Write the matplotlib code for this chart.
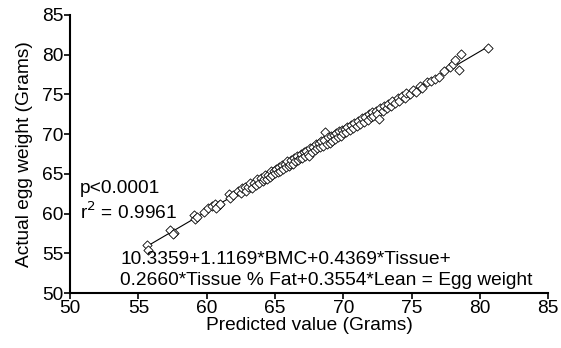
import numpy as np
import matplotlib
matplotlib.use("Agg")
import matplotlib.pyplot as plt

plt.rcParams['font.family'] = ['Liberation Sans', 'DejaVu Sans']

# Predicted value (g) and actual egg weight (g) for each egg
predicted = [
    55.6, 55.7, 57.3, 57.6, 57.5,
    59.1, 59.15, 59.3, 59.8, 60.1, 60.4, 60.6, 60.9, 60.7, 61.0, 61.6, 61.7, 61.9,
    62.3, 62.5, 62.6, 62.8, 62.9, 63.0, 63.2, 63.3, 63.5, 63.6, 63.7, 63.8, 64.0,
    64.1, 64.2, 64.3, 64.4, 64.5, 64.6, 64.7, 64.8, 64.9, 65.0, 65.1, 65.2, 65.3, 65.4,
    65.5, 65.6, 65.7, 65.8, 65.9, 66.0, 66.1, 66.2, 66.3, 66.4, 66.5, 66.6, 66.7,
    66.8, 66.9, 67.0, 67.1, 67.2, 67.3, 67.4, 67.5, 67.6, 67.7, 67.8, 67.9, 68.0,
    68.1, 68.2, 68.3, 68.4, 68.5, 68.6, 68.7, 68.8, 68.9, 69.0, 69.1, 69.2, 69.3,
    69.4, 69.5, 69.6, 69.7, 69.8, 69.9,
    70.0, 70.1, 70.2, 70.3, 70.5, 70.6, 70.7, 70.8, 71.0, 71.1, 71.2, 71.4, 71.5,
    71.6, 71.8, 71.9, 72.0, 72.1, 72.2, 72.4, 72.5, 72.6, 72.7, 72.9, 73.0, 73.2,
    73.3, 73.5, 73.6, 73.8, 74.0, 74.1, 74.3, 74.5, 74.6,
    74.9, 75.1, 75.3, 75.6, 75.8, 76.1, 76.4, 76.7, 77.0, 77.4, 77.8, 78.0, 78.2,
    78.5, 78.6, 80.6,
]
actual = [
    56.0, 55.4, 57.9, 57.6, 57.4,
    59.8, 59.3, 59.6, 60.2, 60.7, 60.9, 61.2, 61.1, 60.7, 61.2, 62.5, 62.0, 62.3,
    62.8, 62.6, 63.2, 63.4, 62.9, 63.3, 63.8, 63.2, 63.9, 63.6, 64.3, 63.8, 64.5,
    64.1, 64.3, 64.9, 64.4, 64.9, 64.6, 65.3, 64.8, 65.4, 65.1, 65.6, 65.2, 65.9, 65.4,
    66.1, 65.6, 66.3, 65.9, 66.6, 66.0, 66.3, 66.8, 66.3, 67.0, 66.6, 67.3, 66.8,
    67.0, 67.5, 67.0, 67.7, 67.2, 67.9, 67.5, 67.3, 68.2, 67.7, 68.4, 68.0, 68.7,
    68.2, 68.9, 68.4, 69.1, 68.5, 69.3, 70.3, 68.8, 69.6, 68.9, 69.8, 69.1, 69.9,
    69.4, 70.1, 69.7, 70.4, 69.8, 70.5,
    70.1, 70.7, 70.3, 70.9, 70.5, 71.2, 70.8, 71.4, 71.0, 71.7, 71.3, 72.0, 71.5,
    72.2, 71.8, 72.5, 72.1, 72.8, 72.3, 72.9, 72.5, 71.9, 73.3, 72.9, 73.5, 73.3,
    73.8, 73.6, 74.2, 73.9, 74.6, 74.2, 74.8, 74.6, 75.2,
    75.1, 75.6, 75.3, 76.1, 75.8, 76.6, 76.7, 77.0, 77.2, 77.9, 78.5, 78.8, 79.3,
    78.1, 80.1, 80.9,
]

x_ticks = [50, 55, 60, 65, 70, 75, 80, 85]
y_ticks = [50, 55, 60, 65, 70, 75, 80, 85]

FS = 13.8

fig = plt.figure(figsize=(5.61, 3.48), dpi=100)
ax = fig.add_axes([0.125, 0.158, 0.852, 0.799])

x = np.array(predicted)
y = np.array(actual)

# Least-squares fit line over the range of the predictions
slope, intercept = np.polyfit(x, y, 1)
xl = np.array([x.min(), x.max()])
ax.plot(xl, slope * xl + intercept, color='black', lw=0.8, zorder=2)

ax.scatter(x, y, marker='D', s=22, facecolor='white', edgecolor='black',
           linewidths=0.6, zorder=3)

ax.set_xlim(50, 85)
ax.set_ylim(50, 85)
ax.set_xticks(x_ticks)
ax.set_yticks(y_ticks)

for side in ('top', 'right'):
    ax.spines[side].set_visible(False)
for side in ('left', 'bottom'):
    ax.spines[side].set_linewidth(1.5)

ax.tick_params(axis='both', direction='out', length=4, width=1.2,
               labelsize=FS, pad=1)

ax.set_xlabel('Predicted value (Grams)', fontsize=FS, labelpad=0)
ax.set_ylabel('Actual egg weight (Grams)', fontsize=FS, labelpad=6)

ax.text(0.021, 0.375, 'p<0.0001', transform=ax.transAxes, fontsize=FS,
        va='center', ha='left')
ax.text(0.021, 0.292, r'r$^2$ = 0.9961', transform=ax.transAxes, fontsize=FS,
        va='center', ha='left')
ax.text(0.105, 0.12, '10.3359+1.1169*BMC+0.4369*Tissue+',
        transform=ax.transAxes, fontsize=FS, va='center', ha='left')
ax.text(0.105, 0.045, '0.2660*Tissue % Fat+0.3554*Lean = Egg weight',
        transform=ax.transAxes, fontsize=FS, va='center', ha='left')

fig.savefig('out.png', dpi=100)
